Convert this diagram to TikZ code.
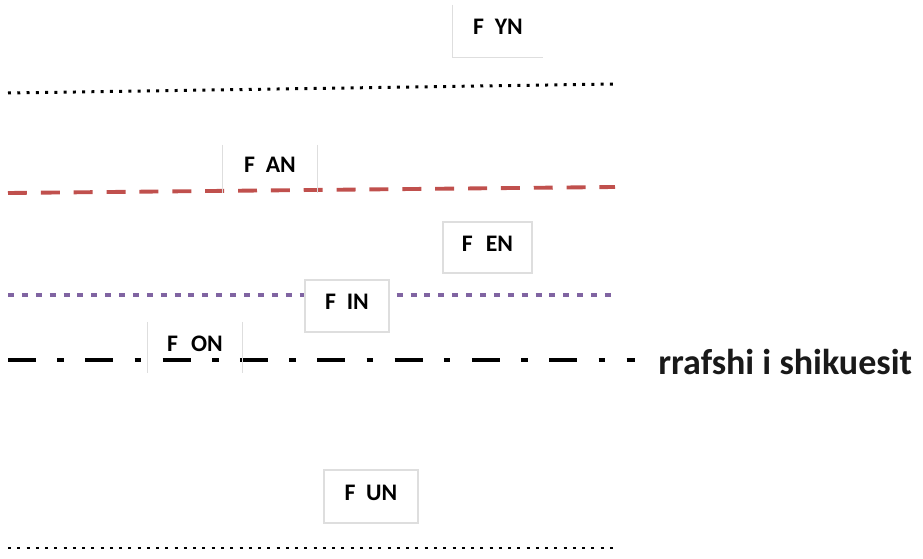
\documentclass[tikz,border=0pt]{standalone}
\usepackage{fontspec}
\setmainfont{Carlito}
\definecolor{PlaneRed}{RGB}{192,80,77}
\definecolor{PlanePurple}{RGB}{128,100,162}
\definecolor{BoxGray}{RGB}{222,222,222}
\usepackage{tikz}
\usetikzlibrary{positioning}

\begin{document}
\begin{tikzpicture}[
        fbox/.style={rectangle, fill=white, minimum width=1.85cm, minimum height=1.02cm,
                     inner sep=0pt, text height=8.7pt, text depth=4.5pt,
                     font=\fontsize{13.5}{15}\selectfont\bfseries, text=black},
        fedge/.style={draw=BoxGray, line width=0.6pt},
        dotline/.style={line width=1.7pt, black, dash pattern=on 1.7pt off 3.57pt},
        redline/.style={line width=2.2pt, PlaneRed, dash pattern=on 10.8pt off 7.9pt},
        purpline/.style={line width=2.3pt, PlanePurple, dash pattern=on 3.4pt off 4.5pt},
        viewline/.style={line width=2.8pt, black, dash pattern=on 15.9pt off 12.2pt on 3.7pt off 12.2pt}
      ]
        \useasboundingbox (0,0) rectangle (18.46,-11.18);

        % planes
        \coordinate (yL) at (0.16,-1.86);  \coordinate (yR) at (12.30,-1.68);
        \coordinate (aL) at (0.16,-3.86);  \coordinate (aR) at (12.30,-3.74);
        \coordinate (iL) at (0.16,-5.90);  \coordinate (iR) at (12.34,-5.90);
        \coordinate (vL) at (0.16,-7.20);  \coordinate (vR) at (12.70,-7.20);
        \coordinate (uL) at (0.16,-10.96); \coordinate (uR) at (12.26,-10.96);

        \draw[dotline]  (yL) -- (yR);
        \draw[redline]  (aL) -- (aR);
        \draw[purpline] (iL) -- (iR);
        \draw[viewline] (vL) -- (vR);
        \draw[dotline]  (uL) -- (uR);

        \node[font=\fontsize{20.5}{24}\selectfont\bfseries, text=black!90, inner sep=0pt,
              anchor=base west] (viewer) at ([xshift=0.46cm, yshift=-0.30cm]vR) {rrafshi i shikuesit};

        % labels
        \node[fbox, minimum width=1.80cm, minimum height=1.04cm] (fyn) at (9.96,-0.62) {F\hspace{0.45em}YN};
        \node[fbox, fill=none, minimum width=1.88cm, minimum height=0.96cm] (fan) at (5.40,-3.38) {F\hspace{0.45em}AN};
        \node[fbox, fedge, minimum width=1.78cm] (fen) at (9.75,-4.95) {F\hspace{0.55em}EN};
        \node[fbox, fedge, minimum width=1.68cm, minimum height=1.04cm] (fin) at (6.94,-6.12) {F\hspace{0.45em}IN};
        \node[fbox, fill=none, minimum width=1.88cm] (fon) at (3.90,-6.95) {F\hspace{0.55em}ON};
        \node[fbox, fedge, minimum width=1.88cm, minimum height=1.06cm] (fun) at (7.42,-9.93) {F\hspace{0.45em}UN};

        \draw[fedge] (fyn.north west) -- (fyn.south west) -- (fyn.south east);
        \draw[fedge] (fan.north west) -- (fan.south west);
        \draw[fedge] (fan.north east) -- (fan.south east);
        \draw[fedge] (fon.north west) -- (fon.south west);
        \draw[fedge] (fon.north east) -- (fon.south east);
      \end{tikzpicture}
\end{document}
